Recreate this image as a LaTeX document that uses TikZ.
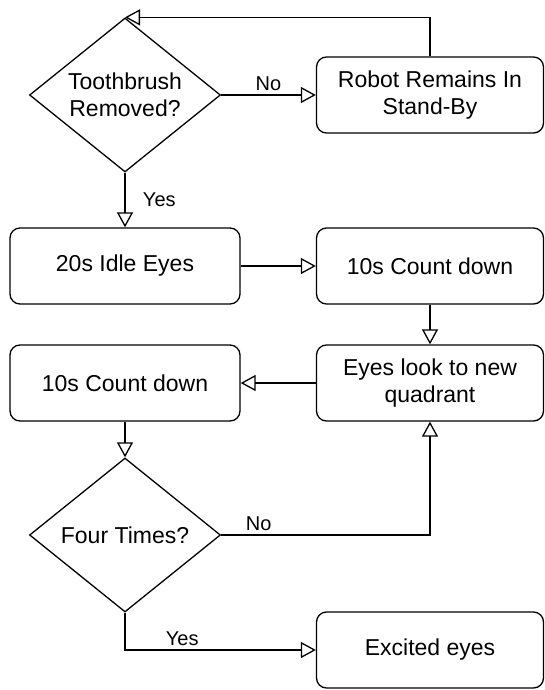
\documentclass[tikz,border=0pt]{standalone}
\usepackage{fontspec}
\setmainfont{Liberation Sans}
\usetikzlibrary{arrows.meta,shapes.geometric,positioning}
\tikzset{>={Triangle[open,length=15pt,width=16pt]}}

\begin{document}
\begin{tikzpicture}[x=1pt, y=-1pt, line width=1.3pt,
    every node/.style={font=\fontsize{23}{27}\selectfont},
    box/.style={draw, rounded corners=10pt, minimum width=227pt, minimum height=76pt, align=center, inner sep=0pt},
    decision/.style={draw, diamond, aspect=1.24, minimum width=191pt, minimum height=154pt, inner sep=0pt, align=center},
    lab/.style={font=\fontsize{20}{24}\selectfont}]
    \useasboundingbox (0,0) rectangle (544,690);
    % left column
    \node[decision] (dec1) at (125,95) {Toothbrush\\Removed?};
    \node[box, minimum width=230pt] (idle) at (125,266) {20s Idle Eyes};
    \node[box, minimum width=230pt] (cnt2) at (125,383) {10s Count down};
    \node[decision] (dec2) at (125,535) {Four Times?};
    % right column
    \node[box] (stby) at (430,95) {Robot Remains In\\Stand-By};
    \node[box] (cnt1) at (430,266) {10s Count down};
    \node[box] (look) at (430,383) {Eyes look to new\\quadrant};
    \node[box] (excited) at (430,650) {Excited eyes};
    % connectors
    \draw[->] (dec1.east) -- node[lab, above] {No} (stby.west);
    \draw[->] (stby.north) |- (dec1.north);
    \draw[->] (dec1.south) -- node[lab, right=14pt] {Yes} (idle.north);
    \draw[->] (idle.east) -- (cnt1.west);
    \draw[->] (cnt1.south) -- (look.north);
    \draw[->] (look.west) -- (cnt2.east);
    \draw[->] (cnt2.south) -- (dec2.north);
    \draw[->] (dec2.east) -| node[lab, above, pos=0.09] {No} (look.south);
    \draw[->] (dec2.south) |- node[lab, above, pos=0.65] {Yes} (excited.west);
\end{tikzpicture}
\end{document}
